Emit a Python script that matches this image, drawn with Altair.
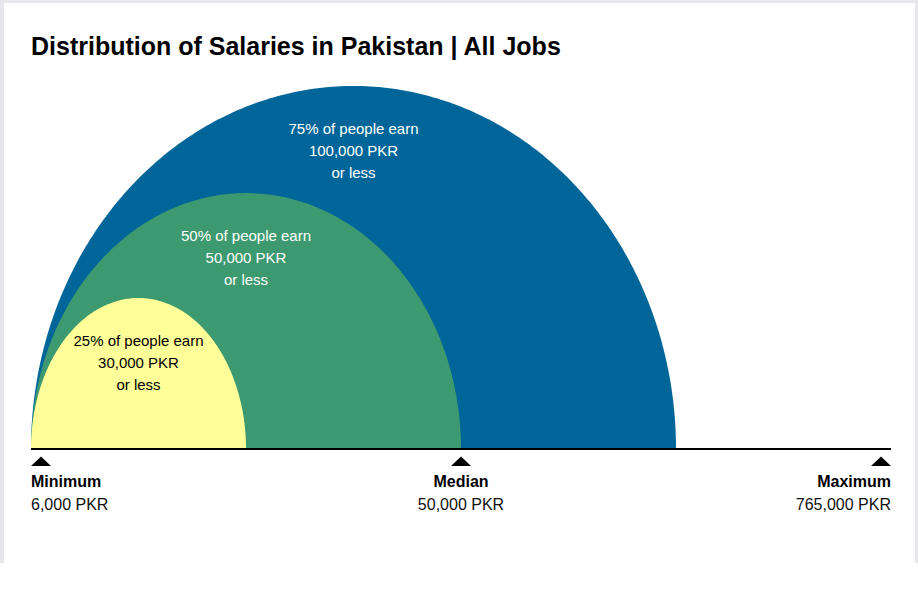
import altair as alt
import numpy as np
import pandas as pd

# ---------------- data ----------------
title_text = "Distribution of Salaries in Pakistan | All Jobs"

band_percent = ["25%", "50%", "75%"]
band_salary = ["30,000 PKR", "50,000 PKR", "100,000 PKR"]
band_end_step = [1, 2, 3]            # step on the salary scale where each band ends
band_height = [41.6, 70.5, 100.0]    # relative arc height (max = 100)
band_color = ["#ffff99", "#3d9970", "#006699"]
band_text_color = ["#000000", "#ffffff", "#ffffff"]

marker_name = ["Minimum", "Median", "Maximum"]
marker_value = ["6,000 PKR", "50,000 PKR", "765,000 PKR"]
marker_step = [0, 2, 4]
marker_align = ["left", "center", "right"]

FONT = "Liberation Sans"

xscale = alt.Scale(domain=[0, 4], range=[31, 891])
yscale = alt.Scale(domain=[0, 100], range=[449, 86])

layers = []

# frame of the card
frame = alt.Data(values=[{"k": 1}])
for xv, x2v, yv, y2v in [(0, 4, 0, 563), (0, 918, 0, 3), (915, 918, 0, 563)]:
    layers.append(
        alt.Chart(frame).mark_rect(color="#e7e7eb").encode(
            x=alt.value(xv), x2=alt.value(x2v), y=alt.value(yv), y2=alt.value(y2v)
        )
    )

# title
layers.append(
    alt.Chart(alt.Data(values=[{"t": title_text}])).mark_text(
        font=FONT, fontSize=25, fontWeight="bold", align="left",
        baseline="middle", color="#000000"
    ).encode(x=alt.value(31), y=alt.value(47), text="t:N")
)

# half-ellipse bands, largest first
t = np.linspace(0, np.pi, 241)
for i in reversed(range(3)):
    a = band_end_step[i] / 2.0
    df = pd.DataFrame({
        "x": a - a * np.cos(t),
        "y": band_height[i] * np.sin(t),
    })
    layers.append(
        alt.Chart(df).mark_area(color=band_color[i], opacity=1, interpolate="linear").encode(
            x=alt.X("x:Q", scale=xscale, axis=None),
            y=alt.Y("y:Q", scale=yscale, axis=None),
            y2=alt.datum(0),
        )
    )

# band labels
for i in range(3):
    lab = pd.DataFrame({
        "x": [band_end_step[i] / 2.0],
        "y": [band_height[i]],
        "txt": [[f"{band_percent[i]} of people earn", band_salary[i], "or less"]],
    })
    layers.append(
        alt.Chart(lab).mark_text(
            font=FONT, fontSize=15, align="center", baseline="middle",
            lineHeight=22, dy=43, color=band_text_color[i]
        ).encode(
            x=alt.X("x:Q", scale=xscale, axis=None),
            y=alt.Y("y:Q", scale=yscale, axis=None),
            text="txt",
        )
    )

# baseline
base = pd.DataFrame({"x": [0], "x2": [4], "y": [0]})
layers.append(
    alt.Chart(base).mark_rule(color="#000000", strokeWidth=2).encode(
        x=alt.X("x:Q", scale=xscale, axis=None),
        x2="x2:Q",
        y=alt.Y("y:Q", scale=yscale, axis=None),
    )
)

# markers and labels
tri_paths = {
    "left": "M0,1.7 L2,1.7 L1,0.75 Z",
    "center": "M-1,1.7 L1,1.7 L0,0.75 Z",
    "right": "M-2,1.7 L0,1.7 L-1,0.75 Z",
}
for i in range(3):
    md = pd.DataFrame({"x": [marker_step[i]], "y": [0],
                       "name": [marker_name[i]], "val": [marker_value[i]]})
    enc = dict(x=alt.X("x:Q", scale=xscale, axis=None),
               y=alt.Y("y:Q", scale=yscale, axis=None))
    layers.append(
        alt.Chart(md).mark_point(
            shape=tri_paths[marker_align[i]], size=400, filled=True,
            color="#000000", opacity=1, strokeWidth=0
        ).encode(**enc)
    )
    layers.append(
        alt.Chart(md).mark_text(
            font=FONT, fontSize=16, fontWeight="bold", align=marker_align[i],
            baseline="middle", dy=33, color="#000000"
        ).encode(text="name:N", **enc)
    )
    layers.append(
        alt.Chart(md).mark_text(
            font=FONT, fontSize=16, align=marker_align[i],
            baseline="middle", dy=56, color="#111111"
        ).encode(text="val:N", **enc)
    )

chart = alt.layer(*layers).properties(
    width=918, height=596,
    autosize=alt.AutoSizeParams(type="none"),
    padding=0, background="#ffffff",
).configure_view(stroke=None)

chart.save("out.html", embed_options={"renderer": "svg", "actions": False})
